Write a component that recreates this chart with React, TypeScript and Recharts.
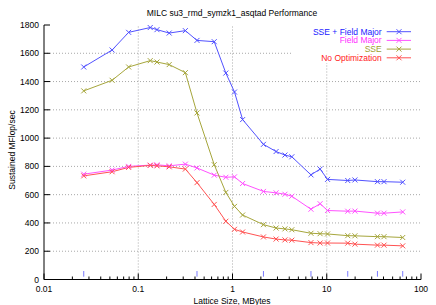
import { LineChart, Line, XAxis, YAxis, ReferenceLine } from "recharts";

// lattice sizes (MBytes) shared by all four runs
const sizes = [
  0.0264, 0.0528, 0.0791, 0.134, 0.158, 0.213, 0.316, 0.42, 0.64, 0.85, 1.05, 1.28,
  2.13, 2.9, 3.6, 4.26, 6.8, 8.5, 10.2, 16.7, 19.9, 34.5, 40.5, 64,
];
const sseFieldMajor = [
  1503, 1623, 1748, 1782, 1767, 1743, 1760, 1691, 1682, 1460, 1326, 1131,
  956, 905, 880, 868, 740, 781, 708, 700, 704, 692, 692, 688,
];
const fieldMajor = [
  745, 774, 800, 809, 811, 804, 816, 789, 738, 723, 726, 679,
  623, 613, 603, 589, 497, 536, 488, 483, 484, 469, 469, 478,
];
const sse = [
  1334, 1409, 1503, 1548, 1538, 1520, 1463, 1178, 812, 616, 517, 456,
  388, 364, 358, 352, 327, 324, 322, 310, 309, 303, 303, 297,
];
const noOpt = [
  733, 762, 793, 807, 804, 797, 781, 685, 531, 412, 355, 336,
  301, 286, 280, 278, 261, 258, 258, 257, 250, 243, 243, 238,
];
// short blue marks along the bottom
const markedSizes = [0.0264, 0.42, 2.13, 6.8, 16.7, 34.5, 64];

const xMajor = [0.01, 0.1, 1, 10, 100];
const xLabels = ["0.01", "0.1", "1", "10", "100"];
const xMinor = xMajor.slice(0, 4).flatMap((d) =>
  [2, 3, 4, 5, 6, 7, 8, 9].map((m) => +(d * m).toPrecision(3))
);
const xTicks = [...xMajor, ...xMinor].sort((a, b) => a - b);
const yTicks = [0, 200, 400, 600, 800, 1000, 1200, 1400, 1600, 1800];
const yGrid = [200, 400, 600, 800, 1000, 1200, 1400, 1600];
const xGrid = [0.1, 1, 10];

const data = sizes.map((s, i) => ({
  size: s,
  sseField: sseFieldMajor[i],
  field: fieldMajor[i],
  sse: sse[i],
  none: noOpt[i],
}));

const series = [
  { key: "sseField", name: "SSE + Field Major", color: "#5252ff", text: "#2020ff" },
  { key: "field", name: "Field Major", color: "#ff52ff", text: "#ff30ff" },
  { key: "sse", name: "SSE", color: "#a6a63c", text: "#a0a030" },
  { key: "none", name: "No Optimization", color: "#ff5252", text: "#ff2020" },
];

const FONT = "'Liberation Sans', Arial, sans-serif";
const GRID = "#a8a8a8";

const cross = (color: string) => (props: any) => {
  const { cx, cy, index } = props;
  if (cx == null || cy == null) return <g key={index} />;
  const r = 2.5;
  return (
    <path
      key={index}
      d={`M${cx - r},${cy - r}L${cx + r},${cy + r}M${cx - r},${cy + r}L${cx + r},${cy - r}`}
      stroke={color}
      strokeWidth={1}
      fill="none"
    />
  );
};

function BottomTick({ x, y, payload }: any) {
  const i = xMajor.indexOf(payload.value);
  const major = i >= 0;
  return (
    <g>
      <line x1={x} x2={x} y1={y} y2={y - (major ? 6 : 3)} stroke="#000" />
      {major && (
        <text x={x} y={y + 12} textAnchor="middle" fontSize={8.5} fontFamily={FONT} fill="#000">
          {xLabels[i]}
        </text>
      )}
    </g>
  );
}

function TopTick({ x, y, payload }: any) {
  const major = xMajor.includes(payload.value);
  return <line x1={x} x2={x} y1={y} y2={y + (major ? 6 : 3)} stroke="#000" />;
}

function LeftTick({ x, y, payload }: any) {
  return (
    <g>
      <line x1={x} x2={x + 6} y1={y} y2={y} stroke="#000" />
      <text x={x - 5} y={y + 3} textAnchor="end" fontSize={8.5} fontFamily={FONT} fill="#000">
        {payload.value}
      </text>
    </g>
  );
}

function RightTick({ x, y }: any) {
  return <line x1={x} x2={x - 6} y1={y} y2={y} stroke="#000" />;
}

function Legend() {
  return (
    <div style={{ position: "absolute", left: 293, top: 26, width: 127, height: 37, background: "#fff" }}>
      <svg width={127} height={37}>
        {series.map((s, i) => {
          const cy = 5.7 + i * 8.7;
          return (
            <g key={s.key}>
              <text x={88.7} y={cy + 3} textAnchor="end" fontSize={8.5} fontFamily={FONT} fill={s.text}>
                {s.name}
              </text>
              <line x1={93.7} x2={118} y1={cy} y2={cy} stroke={s.color} />
              {cross(s.color)({ cx: 106, cy, index: i })}
            </g>
          );
        })}
      </svg>
    </div>
  );
}

export default function App() {
  return (
    <div style={{ position: "absolute", left: 0, top: 0, width: 436, height: 305, fontFamily: FONT, background: "#fff" }}>
      <LineChart width={436} height={305} data={data} margin={{ top: 25, right: 15, bottom: 0, left: 0 }}>
        <XAxis
          dataKey="size"
          type="number"
          scale="log"
          domain={[0.01, 100]}
          allowDataOverflow
          ticks={xTicks}
          interval={0}
          height={25.5}
          tickSize={0}
          tickMargin={0}
          tickLine={false}
          axisLine={{ stroke: "#000" }}
          tick={<BottomTick />}
        />
        <XAxis
          xAxisId="top"
          orientation="top"
          type="number"
          scale="log"
          domain={[0.01, 100]}
          allowDataOverflow
          ticks={xTicks}
          interval={0}
          height={0}
          tickSize={0}
          tickMargin={0}
          tickLine={false}
          axisLine={{ stroke: "#000" }}
          tick={<TopTick />}
        />
        <YAxis
          type="number"
          domain={[0, 1800]}
          ticks={yTicks}
          interval={0}
          width={44}
          tickSize={0}
          tickMargin={0}
          tickLine={false}
          axisLine={{ stroke: "#000" }}
          tick={<LeftTick />}
        />
        <YAxis
          yAxisId="right"
          orientation="right"
          type="number"
          domain={[0, 1800]}
          ticks={yTicks}
          interval={0}
          width={0}
          tickSize={0}
          tickMargin={0}
          tickLine={false}
          axisLine={{ stroke: "#000" }}
          tick={<RightTick />}
        />
        {xGrid.map((v) => (
          <ReferenceLine key={"gx" + v} x={v} stroke={GRID} strokeDasharray="1 2" />
        ))}
        {yGrid.map((v) => (
          <ReferenceLine key={"gy" + v} y={v} stroke={GRID} strokeDasharray="1 2" />
        ))}
        {markedSizes.map((v) => (
          <ReferenceLine
            key={"m" + v}
            segment={[{ x: v, y: 20 }, { x: v, y: 60 }]}
            stroke="#7a7aff"
          />
        ))}
        {series.map((s) => (
          <Line
            key={s.key}
            dataKey={s.key}
            name={s.name}
            stroke={s.color}
            strokeWidth={1}
            dot={cross(s.color)}
            activeDot={false}
            isAnimationActive={false}
            type="linear"
          />
        ))}
      </LineChart>
      <Legend />
      <div style={{ position: "absolute", left: 232, top: 8, transform: "translateX(-50%)", whiteSpace: "nowrap", fontSize: 8.5, lineHeight: "10px" }}>
        MILC su3_rmd_symzk1_asqtad Performance
      </div>
      <div style={{ position: "absolute", left: 232, top: 296, transform: "translateX(-50%)", whiteSpace: "nowrap", fontSize: 8.5, lineHeight: "10px" }}>
        Lattice Size, MBytes
      </div>
      <div style={{ position: "absolute", left: 12, top: 150, transform: "translate(-50%, -50%) rotate(-90deg)", whiteSpace: "nowrap", fontSize: 8.5, lineHeight: "10px" }}>
        Sustained MFlop/sec
      </div>
    </div>
  );
}
